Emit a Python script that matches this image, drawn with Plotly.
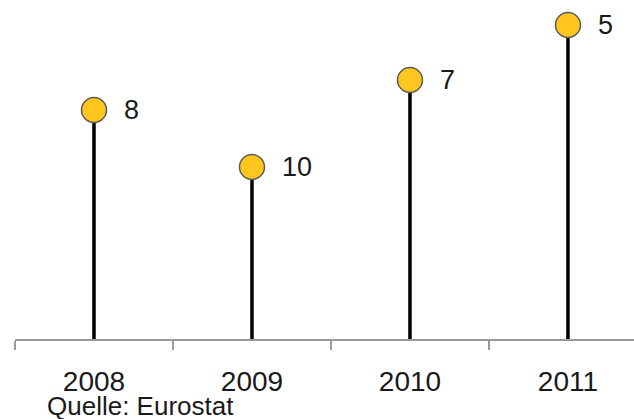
import plotly.graph_objects as go

years = ["2008", "2009", "2010", "2011"]
values = [229, 172, 259, 314]          # estimated heights (no value axis shown)
ranks = ["8", "10", "7", "5"]
source = "Quelle: Eurostat"

FONT = "Liberation Sans, Arial, sans-serif"

stem_x, stem_y = [], []
for yr, v in zip(years, values):
    stem_x += [yr, yr, None]
    stem_y += [0, v, None]

fig = go.Figure()
fig.add_trace(go.Scatter(
    x=stem_x, y=stem_y, mode="lines",
    line=dict(color="black", width=3.5),
    hoverinfo="skip", showlegend=False, cliponaxis=False,
))
fig.add_trace(go.Scatter(
    x=years, y=values, mode="markers",
    marker=dict(size=25, color="#FFC61E", line=dict(color="#5a5a5a", width=1.5)),
    showlegend=False, cliponaxis=False,
))
for i, (v, r) in enumerate(zip(values, ranks)):
    fig.add_annotation(x=i, y=v, xref="x", yref="y", text=r, showarrow=False,
                       xanchor="left", yanchor="middle", xshift=28,
                       font=dict(family=FONT, size=27, color="#1a1a1a"))

fig.add_annotation(xref="paper", yref="paper", x=0, y=0, text=source,
                   showarrow=False, xanchor="left", yanchor="middle",
                   xshift=30, yshift=-67,
                   font=dict(family=FONT, size=26, color="#1a1a1a"))

fig.update_layout(
    width=634, height=419,
    margin=dict(l=15, r=0, t=0, b=80),
    paper_bgcolor="white", plot_bgcolor="white",
    xaxis=dict(type="category", categoryorder="array", categoryarray=years,
               range=[-0.5, 3.418], tickson="boundaries",
               showline=True, linecolor="#9a9a9a", linewidth=1.5,
               ticks="outside", ticklen=9, tickcolor="#9a9a9a", tickwidth=1.5,
               showgrid=False, zeroline=False, fixedrange=True,
               tickfont=dict(family=FONT, size=28, color="#1a1a1a"),
               ticklabelstandoff=17),
    yaxis=dict(range=[0, 339], visible=False, showgrid=False, zeroline=False,
               fixedrange=True),
)

fig.write_html("out.html")
